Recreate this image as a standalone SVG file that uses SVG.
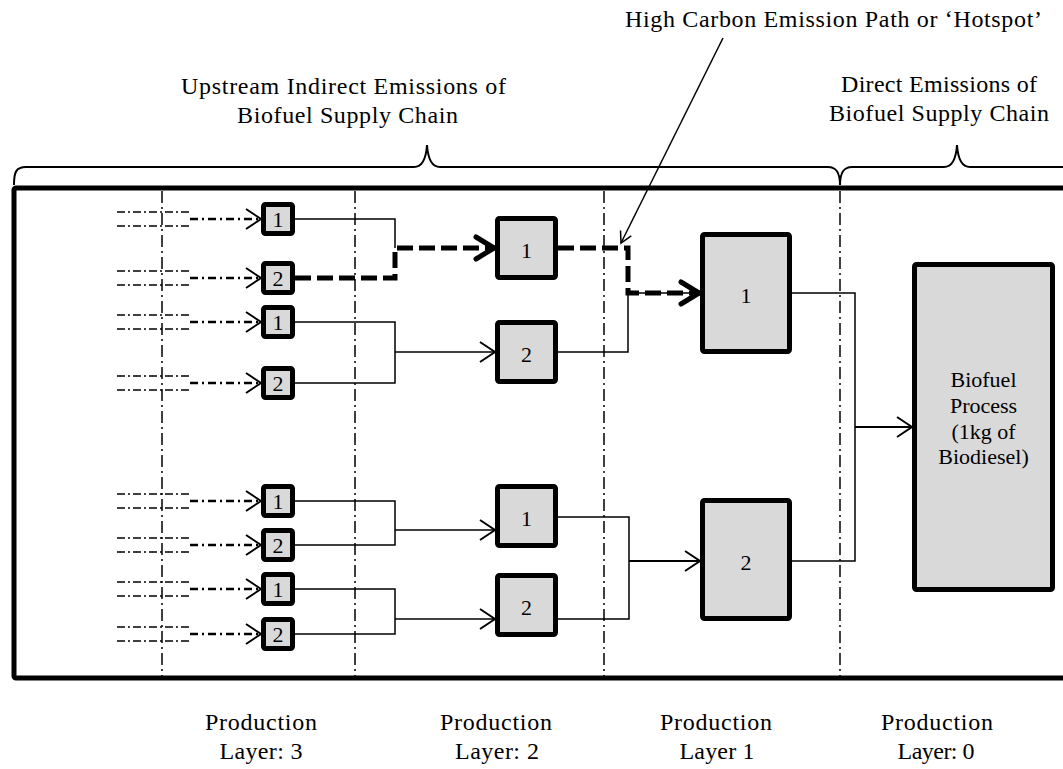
<svg xmlns="http://www.w3.org/2000/svg" width="1063" height="769" viewBox="0 0 1063 769">
<defs>
<style>
.frame{fill:none;stroke:#000;stroke-width:5}
.layer{fill:none;stroke:#000;stroke-width:1.5;stroke-dasharray:12 4 2 4}
.brace{fill:none;stroke:#000;stroke-width:2}
.node rect{fill:#d9d9d9;stroke:#000;stroke-width:5}
.t{font-family:"Liberation Serif","Times New Roman",serif;fill:#000}
.num{font-size:22px;text-anchor:middle}
.hdr{font-size:24px}
.wire{fill:none;stroke:#000;stroke-width:1.5}
.wire2{fill:none;stroke:#000;stroke-width:2}
.hot{fill:none;stroke:#000;stroke-width:5;stroke-dasharray:16 6}
.src{fill:none;stroke:#000;stroke-width:1.5;stroke-dasharray:8 3 2 3}
.in{fill:none;stroke:#000;stroke-width:2.5;stroke-dasharray:8 4 2 4}
</style>
<marker id="ah" viewBox="0 0 18 22" refX="16" refY="11" markerWidth="18" markerHeight="22" markerUnits="userSpaceOnUse" orient="auto">
<path d="M1,1 L16,11 L1,21" fill="none" stroke="#000" stroke-width="2" stroke-dasharray="none"/>
</marker>
<marker id="ahT" viewBox="0 0 26 28" refX="22" refY="14" markerWidth="26" markerHeight="28" markerUnits="userSpaceOnUse" orient="auto">
<path d="M3,3 L21,14 L3,25" fill="none" stroke="#000" stroke-width="5" stroke-linecap="round" stroke-linejoin="round" stroke-dasharray="none"/>
</marker>
<marker id="ahS" viewBox="0 0 14 14" refX="12" refY="7" markerWidth="14" markerHeight="14" markerUnits="userSpaceOnUse" orient="auto">
<path d="M1,1 L12,7 L1,13" fill="none" stroke="#000" stroke-width="1.5" stroke-dasharray="none"/>
</marker>
</defs>
<rect width="1063" height="769" fill="#fff"/>

<g id="frame">
<rect class="frame" x="14" y="188" width="1070" height="490" rx="2"/>
<path class="layer" d="M162,191 V676 M355,191 V676 M604,191 V676 M840,191 V676"/>
<path class="brace" d="M14,185 C14,172 16,167 26,167 H414 C422,167 426,160 427,145 C428,160 432,167 440,167 H828 C836,167 840,172 840,185"/>
<path class="brace" d="M840,185 C840,172 844,167 852,167 H944 C952,167 956,160 957,145 C958,160 962,167 970,167 H1070"/>
</g>

<g id="labels" class="t">
<text class="hdr" x="181" y="94" textLength="325" lengthAdjust="spacing">Upstream Indirect Emissions of</text>
<text class="hdr" x="237" y="123" textLength="221" lengthAdjust="spacing">Biofuel Supply Chain</text>
<text class="hdr" x="625" y="27" textLength="417" lengthAdjust="spacing">High Carbon Emission Path or ‘Hotspot’</text>
<text class="hdr" x="841" y="92" textLength="196" lengthAdjust="spacing">Direct Emissions of</text>
<text class="hdr" x="829" y="121" textLength="220" lengthAdjust="spacing">Biofuel Supply Chain</text>
<g class="hdr" text-anchor="middle">
<text x="261" y="730" textLength="112" lengthAdjust="spacing">Production</text>
<text x="261" y="759" textLength="83" lengthAdjust="spacing">Layer: 3</text>
<text x="496" y="730" textLength="112" lengthAdjust="spacing">Production</text>
<text x="497" y="759" textLength="84" lengthAdjust="spacing">Layer: 2</text>
<text x="716" y="730" textLength="112" lengthAdjust="spacing">Production</text>
<text x="717" y="759" textLength="75" lengthAdjust="spacing">Layer 1</text>
<text x="937" y="730" textLength="112" lengthAdjust="spacing">Production</text>
<text x="936" y="759" textLength="77" lengthAdjust="spacing">Layer: 0</text>
</g>
</g>

<g id="connectors">
<path class="src" d="M117,212 H190 M117,226 H190 M117,271 H190 M117,285 H190 M117,315 H190 M117,329 H190 M117,376 H190 M117,390 H190 M117,494 H190 M117,508 H190 M117,538 H190 M117,552 H190 M117,582 H190 M117,596 H190 M117,627 H190 M117,641 H190"/>
<path class="in" marker-end="url(#ah)" d="M190,219 H261"/>
<path class="in" marker-end="url(#ah)" d="M190,278 H261"/>
<path class="in" marker-end="url(#ah)" d="M190,322 H261"/>
<path class="in" marker-end="url(#ah)" d="M190,383 H261"/>
<path class="in" marker-end="url(#ah)" d="M190,501 H261"/>
<path class="in" marker-end="url(#ah)" d="M190,545 H261"/>
<path class="in" marker-end="url(#ah)" d="M190,589 H261"/>
<path class="in" marker-end="url(#ah)" d="M190,634 H261"/>
<path class="wire" d="M295,219 H395 V248"/>
<path class="wire" d="M295,322 H395 V383 H295"/>
<path class="wire" marker-end="url(#ah)" d="M395,352 H495"/>
<path class="wire" d="M295,501 H395 V545 H295"/>
<path class="wire" marker-end="url(#ah)" d="M395,530 H495"/>
<path class="wire" d="M295,589 H395 V634 H295"/>
<path class="wire" marker-end="url(#ah)" d="M395,619 H495"/>
<path class="wire" d="M558,352 H628 V293 H690"/>
<path class="wire" d="M558,517 H629 V619 H558"/>
<path class="wire2" marker-end="url(#ah)" d="M629,561 H700"/>
<path class="wire" d="M792,293 H855 V561 H792"/>
<path class="wire2" marker-end="url(#ah)" d="M855,427 H912"/>
<path class="hot" marker-end="url(#ahT)" d="M295,278 H395 V248 H495"/>
<path class="hot" marker-end="url(#ahT)" d="M558,248 H628 V293 H700"/>
<path class="wire" marker-end="url(#ahS)" d="M723,38 L621,243"/>
</g>

<g id="n3-1" class="node"><rect x="263.5" y="204.5" width="29" height="29" rx="2"/><text class="t num" x="278" y="227">1</text></g>
<g id="n3-2" class="node"><rect x="263.5" y="263.5" width="29" height="29" rx="2"/><text class="t num" x="278" y="286">2</text></g>
<g id="n3-3" class="node"><rect x="263.5" y="307.5" width="29" height="29" rx="2"/><text class="t num" x="278" y="330">1</text></g>
<g id="n3-4" class="node"><rect x="263.5" y="368.5" width="29" height="29" rx="2"/><text class="t num" x="278" y="391">2</text></g>
<g id="n3-5" class="node"><rect x="263.5" y="486.5" width="29" height="29" rx="2"/><text class="t num" x="278" y="509">1</text></g>
<g id="n3-6" class="node"><rect x="263.5" y="530.5" width="29" height="29" rx="2"/><text class="t num" x="278" y="553">2</text></g>
<g id="n3-7" class="node"><rect x="263.5" y="574.5" width="29" height="29" rx="2"/><text class="t num" x="278" y="597">1</text></g>
<g id="n3-8" class="node"><rect x="263.5" y="619.5" width="29" height="29" rx="2"/><text class="t num" x="278" y="642">2</text></g>

<g id="n2-1" class="node"><rect x="497.5" y="218.5" width="58" height="59" rx="2"/><text class="t num" x="526.5" y="258">1</text></g>
<g id="n2-2" class="node"><rect x="497.5" y="322.5" width="58" height="59" rx="2"/><text class="t num" x="526.5" y="362">2</text></g>
<g id="n2-3" class="node"><rect x="497.5" y="486.5" width="58" height="59" rx="2"/><text class="t num" x="526.5" y="526">1</text></g>
<g id="n2-4" class="node"><rect x="497.5" y="575.5" width="58" height="59" rx="2"/><text class="t num" x="526.5" y="615">2</text></g>

<g id="n1-1" class="node"><rect x="702.5" y="234.5" width="87" height="117" rx="2"/><text class="t num" x="746" y="303">1</text></g>
<g id="n1-2" class="node"><rect x="702.5" y="500.5" width="87" height="118" rx="2"/><text class="t num" x="746" y="570">2</text></g>

<g id="n0" class="node"><rect x="914.5" y="264.5" width="138" height="325" rx="2"/>
<g class="t" font-size="22" text-anchor="middle">
<text x="983.5" y="387">Biofuel</text>
<text x="983.5" y="413">Process</text>
<text x="983.5" y="439">(1kg of</text>
<text x="983.5" y="464">Biodiesel)</text>
</g></g>
</svg>
